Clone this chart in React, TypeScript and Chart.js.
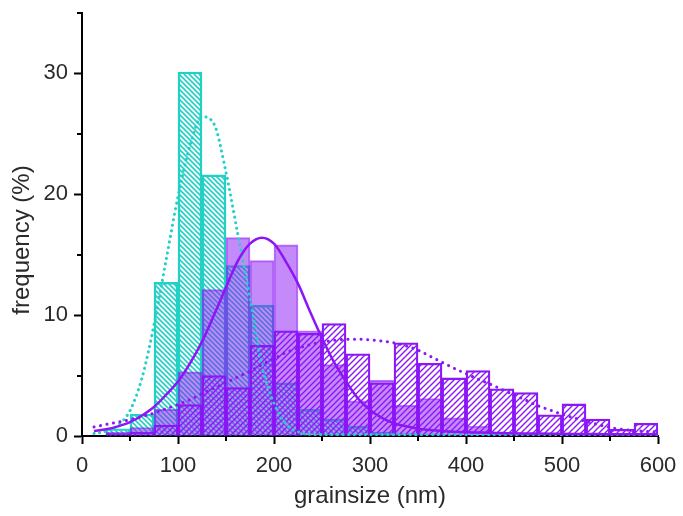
import React, { useEffect, useRef } from 'react';
import { Chart, registerables } from 'chart.js';

Chart.register(...registerables);

// Histogram bins (centres of 25 nm wide bins)
const BIN_CENTERS = [37.5, 62.5, 87.5, 112.5, 137.5, 162.5, 187.5, 212.5, 237.5, 262.5, 287.5, 312.5, 337.5, 362.5, 387.5, 412.5, 437.5, 462.5, 487.5, 512.5, 537.5, 562.5, 587.5];
const CYAN_BARS = [0.6, 1.8, 12.7, 30.1, 21.6, 14.1, 10.8, 4.4, 2.2, 1.4, 0.8, 0.3, 0.2, null, null, null, null, null, null, null, null, null, null];
const PURPLE_SOLID_BARS = [0.3, 0.7, 2.2, 5.3, 12.1, 16.4, 14.5, 15.8, 8.7, 5.9, 2.9, 4.6, 2.55, 3.1, 1.5, 0.8, 0.2, 0.2, null, 0.1, null, null, null];
const PURPLE_HATCH_BARS = [0.2, 0.3, 0.9, 2.6, 5.0, 4.0, 7.5, 8.7, 8.5, 9.3, 6.8, 4.4, 7.7, 6.0, 4.8, 5.4, 3.9, 3.6, 1.75, 2.65, 1.4, 0.55, 1.05];

// Fitted curves
const CURVE_X = [12.5, 25, 37.5, 50, 62.5, 75, 87.5, 100, 112.5, 125, 137.5, 150, 162.5, 175, 187.5, 200, 212.5, 225, 237.5, 250, 262.5, 275, 287.5, 300, 312.5, 325, 337.5, 350, 362.5, 375, 387.5, 400, 412.5, 425, 437.5, 450, 462.5, 475, 487.5, 500, 512.5, 525, 537.5, 550, 562.5, 575, 587.5, 600];
const CYAN_FIT = [0.2, 0.4, 0.9, 2.1, 4.8, 9.2, 14.5, 19.8, 24.0, 26.4, 25.8, 21.8, 16.6, 11.4, 5.8, 2.7, 1.0, 0.35, 0.15, 0.12, 0.12, 0.12, 0.12, 0.12, 0.12, 0.12, 0.12, 0.12, 0.12, 0.12, 0.12, 0.12, 0.12, 0.12, 0.12, 0.12, 0.12, 0.12, 0.12, 0.12, 0.12, 0.12, 0.12, 0.12, 0.12, 0.12, 0.12, 0.12];
const PURPLE_FIT = [0.4, 0.55, 0.8, 1.15, 1.7, 2.4, 3.4, 4.5, 6.0, 7.8, 10.0, 12.3, 14.5, 15.9, 16.4, 15.9, 14.4, 12.6, 10.3, 8.1, 6.1, 4.5, 3.1, 2.15, 1.5, 1.05, 0.8, 0.6, 0.5, 0.42, 0.36, 0.32, 0.29, 0.26, 0.24, 0.22, 0.21, 0.2, 0.19, 0.18, 0.17, 0.16, 0.16, 0.15, 0.15, 0.15, 0.14, 0.14];
const PURPLE_BROAD_FIT = [0.75, 0.95, 1.15, 1.35, 1.6, 1.9, 2.25, 2.6, 3.0, 3.5, 3.95, 4.4, 4.9, 5.35, 5.9, 6.4, 6.9, 7.25, 7.55, 7.75, 7.9, 8.0, 8.0, 7.95, 7.85, 7.7, 7.45, 7.1, 6.6, 6.1, 5.6, 5.15, 4.7, 4.3, 3.85, 3.4, 2.95, 2.5, 2.15, 1.8, 1.5, 1.2, 0.95, 0.7, 0.55, 0.45, 0.38, 0.33];

const X_MAJOR = [0, 100, 200, 300, 400, 500, 600];
const X_MINOR = [50, 150, 250, 350, 450, 550];
const Y_MAJOR = [0, 10, 20, 30];
const Y_MINOR = [5, 15, 25, 35];

const X_TITLE = 'grainsize (nm)';
const Y_TITLE = 'frequency (%)';

const CYAN = 'rgb(34, 208, 198)';
const PURPLE = 'rgb(140, 22, 245)';
const PURPLE_FILL = 'rgba(140, 22, 245, 0.5)';
const FONT = '"Liberation Sans", Arial, sans-serif';

function makeHatch(color: string, dir: '/' | '\\', size: number, lw: number) {
  const c = document.createElement('canvas');
  c.width = size;
  c.height = size;
  const g = c.getContext('2d')!;
  g.strokeStyle = color;
  g.lineWidth = lw;
  g.beginPath();
  if (dir === '/') {
    g.moveTo(0, size); g.lineTo(size, 0);
    g.moveTo(-size / 2, size / 2); g.lineTo(size / 2, -size / 2);
    g.moveTo(size / 2, size * 1.5); g.lineTo(size * 1.5, size / 2);
  } else {
    g.moveTo(0, 0); g.lineTo(size, size);
    g.moveTo(-size / 2, size / 2); g.lineTo(size / 2, size * 1.5);
    g.moveTo(size / 2, -size / 2); g.lineTo(size * 1.5, size / 2);
  }
  g.stroke();
  return g.createPattern(c, 'repeat')!;
}

const decorations = {
  id: 'decorations',
  afterDraw(chart: any) {
    const { ctx, chartArea } = chart;
    const x = chart.scales.x;
    const y = chart.scales.y;
    ctx.save();
    ctx.strokeStyle = '#000';
    ctx.lineWidth = 2;
    ctx.beginPath();
    X_MINOR.forEach((v) => {
      const px = Math.round(x.getPixelForValue(v));
      ctx.moveTo(px, chartArea.bottom);
      ctx.lineTo(px, chartArea.bottom + 5);
    });
    Y_MINOR.forEach((v) => {
      const py = Math.round(y.getPixelForValue(v));
      ctx.moveTo(chartArea.left, py);
      ctx.lineTo(chartArea.left - 5, py);
    });
    ctx.stroke();
    ctx.fillStyle = '#2a2a2a';
    ctx.font = `24px ${FONT}`;
    ctx.textAlign = 'center';
    ctx.textBaseline = 'middle';
    ctx.fillText(X_TITLE, (chartArea.left + chartArea.right) / 2, 496);
    ctx.translate(22, 240);
    ctx.rotate(-Math.PI / 2);
    ctx.fillText(Y_TITLE, 0, 0);
    ctx.restore();
  },
};

export default function App() {
  const ref = useRef<HTMLCanvasElement>(null);
  useEffect(() => {
    if (!ref.current) return;
    const cyanHatch = makeHatch(CYAN, '\\', 5, 1.6);
    const purpleHatch = makeHatch(PURPLE, '/', 6, 1.4);
    const bars = (vals: (number | null)[]) => BIN_CENTERS.map((c, i) => ({ x: c, y: vals[i] }));
    const curve = (vals: number[]) => CURVE_X.map((c, i) => ({ x: c, y: vals[i] }));
    const chart = new Chart(ref.current, {
      type: 'bar',
      data: {
        datasets: [
          {
            type: 'line', data: curve(PURPLE_FIT), borderColor: PURPLE, borderWidth: 2.5,
            pointRadius: 0, cubicInterpolationMode: 'monotone', order: 1,
          } as any,
          {
            type: 'line', data: curve(PURPLE_BROAD_FIT), borderColor: PURPLE, borderWidth: 3,
            borderDash: [0.1, 6.5], borderCapStyle: 'round', pointRadius: 0,
            cubicInterpolationMode: 'monotone', order: 2,
          } as any,
          {
            type: 'line', data: curve(CYAN_FIT), borderColor: CYAN, borderWidth: 3,
            borderDash: [0.1, 5.5], borderCapStyle: 'round', pointRadius: 0,
            cubicInterpolationMode: 'monotone', order: 3,
          } as any,
          {
            data: bars(PURPLE_SOLID_BARS), backgroundColor: PURPLE_FILL, borderColor: 'rgba(140, 22, 245, 0.6)',
            borderWidth: 1.2, grouped: false, barPercentage: 1, categoryPercentage: 1, order: 4,
          } as any,
          {
            data: bars(PURPLE_HATCH_BARS), backgroundColor: purpleHatch, borderColor: PURPLE,
            borderWidth: 1.6, grouped: false, barPercentage: 1, categoryPercentage: 1, order: 5,
          } as any,
          {
            data: bars(CYAN_BARS), backgroundColor: cyanHatch, borderColor: CYAN,
            borderWidth: 1.8, grouped: false, barPercentage: 1, categoryPercentage: 1, order: 6,
          } as any,
        ],
      },
      options: {
        animation: false,
        responsive: true,
        maintainAspectRatio: false,
        layout: { padding: { top: 12.7, right: 25, left: 0, bottom: 0 } },
        plugins: { legend: { display: false }, tooltip: { enabled: false } },
        scales: {
          x: {
            type: 'linear',
            min: 0,
            max: 600,
            offset: false,
            afterBuildTicks: (s: any) => { s.ticks = X_MAJOR.map((v) => ({ value: v })); },
            afterFit: (s: any) => { s.height = 80; s.paddingLeft = 0; s.paddingRight = 0; },
            grid: { display: true, drawOnChartArea: false, drawTicks: true, tickLength: 8, tickColor: '#000', tickWidth: 2, offset: false },
            border: { display: true, color: '#000', width: 2 },
            ticks: { color: '#2a2a2a', font: { family: FONT, size: 22 }, padding: 9, maxRotation: 0, autoSkip: false },
          },
          y: {
            type: 'linear',
            min: 0,
            max: 35,
            afterBuildTicks: (s: any) => { s.ticks = Y_MAJOR.map((v) => ({ value: v })); },
            afterFit: (s: any) => { s.width = 82; s.paddingTop = 0; s.paddingBottom = 0; },
            grid: { display: true, drawOnChartArea: false, drawTicks: true, tickLength: 8, tickColor: '#000', tickWidth: 2 },
            border: { display: true, color: '#000', width: 2 },
            ticks: { color: '#2a2a2a', font: { family: FONT, size: 22 }, padding: 6 },
          },
        },
      } as any,
      plugins: [decorations],
    });
    return () => chart.destroy();
  }, []);
  return (
    <div style={{ position: 'fixed', left: 0, top: 0, width: 683, height: 516, background: '#fff' }}>
      <canvas ref={ref} />
    </div>
  );
}
